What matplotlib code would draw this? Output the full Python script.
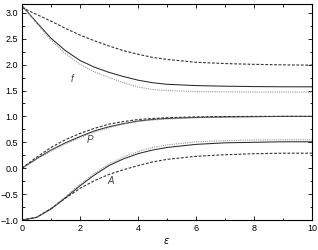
import matplotlib
matplotlib.use("Agg")
import matplotlib.pyplot as plt
from matplotlib.ticker import MultipleLocator

x = [0, 0.5, 1, 1.5, 2, 2.5, 3, 3.5, 4, 4.5, 5, 6, 7, 8, 9, 10]

f_solid = [3.14, 2.82, 2.51, 2.27, 2.08, 1.95, 1.85, 1.77, 1.70, 1.65, 1.62, 1.595, 1.583, 1.576, 1.572, 1.571]
f_dot = [3.14, 2.80, 2.47, 2.21, 2.01, 1.86, 1.75, 1.65, 1.57, 1.52, 1.50, 1.48, 1.475, 1.47, 1.47, 1.47]
f_dash = [3.10, 2.97, 2.84, 2.70, 2.57, 2.46, 2.36, 2.27, 2.20, 2.14, 2.10, 2.045, 2.02, 2.005, 1.995, 1.99]

P_solid = [0.0, 0.18, 0.35, 0.49, 0.61, 0.72, 0.80, 0.86, 0.91, 0.94, 0.96, 0.98, 0.99, 0.995, 1.0, 1.0]
P_dot = [0.0, 0.17, 0.33, 0.47, 0.59, 0.70, 0.78, 0.85, 0.90, 0.93, 0.95, 0.975, 0.99, 0.995, 1.0, 1.0]
P_dash = [0.0, 0.21, 0.40, 0.55, 0.67, 0.77, 0.85, 0.90, 0.94, 0.96, 0.975, 0.99, 0.997, 1.0, 1.0, 1.0]

A_solid = [-1.0, -0.95, -0.79, -0.57, -0.34, -0.13, 0.05, 0.18, 0.28, 0.35, 0.40, 0.46, 0.49, 0.50, 0.51, 0.51]
A_dot = [-1.0, -0.95, -0.78, -0.55, -0.31, -0.10, 0.08, 0.22, 0.32, 0.40, 0.45, 0.51, 0.53, 0.545, 0.55, 0.55]
A_dash = [-1.0, -0.95, -0.78, -0.58, -0.39, -0.24, -0.12, -0.03, 0.05, 0.12, 0.17, 0.23, 0.26, 0.28, 0.29, 0.29]

labels = [("f", 1.72, 1.72), ("P", 2.35, 0.54), ("A", 3.05, -0.24)]

plt.rcParams['font.family'] = ['Liberation Sans', 'DejaVu Sans']
fig = plt.figure(figsize=(3.18, 2.5), dpi=100)
ax = fig.add_axes([0.069, 0.12, 0.912, 0.864])

for ys in (f_solid, P_solid, A_solid):
    ax.plot(x, ys, color='#2a2a2a', lw=0.75, ls='-')
for ys in (f_dot, P_dot, A_dot):
    ax.plot(x, ys, color='#999999', lw=0.8, ls=(0, (1, 1)))
for ys in (f_dash, P_dash, A_dash):
    ax.plot(x, ys, color='#333333', lw=0.8, ls=(0, (2.5, 1.5)))

for t, lx, ly in labels:
    ax.text(lx, ly, t, fontsize=7, style='italic', ha='center', va='center', color='#444444')

ax.set_xlim(0, 10)
ax.set_ylim(-1.0, 3.17)
ax.xaxis.set_major_locator(MultipleLocator(2))
ax.xaxis.set_minor_locator(MultipleLocator(1))
ax.yaxis.set_major_locator(MultipleLocator(0.5))
ax.yaxis.set_minor_locator(MultipleLocator(0.25))
ax.tick_params(which='both', direction='in', top=True, right=True, labelsize=6.5, pad=3, width=0.6)
ax.tick_params(which='major', length=3)
ax.tick_params(which='minor', length=1.8)
for s in ax.spines.values():
    s.set_linewidth(0.8)
ax.set_xlabel(r'$\varepsilon$', fontsize=7, labelpad=2)

fig.savefig('out.png', dpi=100)
